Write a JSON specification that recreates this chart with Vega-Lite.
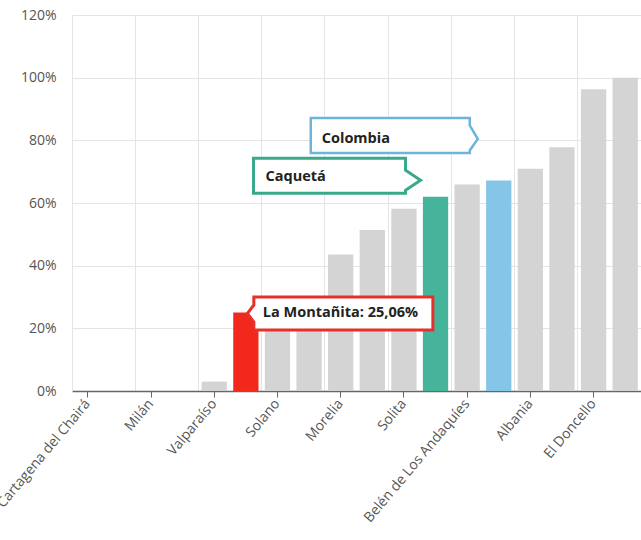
{
  "$schema": "https://vega.github.io/schema/vega-lite/v6.json",
  "autosize": "none",
  "padding": {"left": 72, "top": 15, "right": 0, "bottom": 149},
  "width": 569,
  "height": 376,
  "background": "white",
  "config": {
    "view": {"stroke": null},
    "font": "Open Sans"
  },
  "data": {
    "values": [
      {"municipio": "Cartagena del Chairá", "valor": 0, "grupo": "Municipio"},
      {"municipio": "Curillo", "valor": 0, "grupo": "Municipio"},
      {"municipio": "Milán", "valor": 0, "grupo": "Municipio"},
      {"municipio": "Puerto Rico", "valor": 0, "grupo": "Municipio"},
      {"municipio": "Valparaíso", "valor": 0.03, "grupo": "Municipio"},
      {"municipio": "La Montañita", "valor": 0.2506, "grupo": "La Montañita", "nota": "La Montañita: 25,06%"},
      {"municipio": "Solano", "valor": 0.26, "grupo": "Municipio"},
      {"municipio": "San José del Fragua", "valor": 0.28, "grupo": "Municipio"},
      {"municipio": "Morelia", "valor": 0.436, "grupo": "Municipio"},
      {"municipio": "El Paujil", "valor": 0.514, "grupo": "Municipio"},
      {"municipio": "Solita", "valor": 0.582, "grupo": "Municipio"},
      {"municipio": "Caquetá", "valor": 0.62, "grupo": "Caquetá", "nota": "Caquetá"},
      {"municipio": "Belén de Los Andaquíes", "valor": 0.659, "grupo": "Municipio"},
      {"municipio": "Colombia", "valor": 0.672, "grupo": "Colombia", "nota": "Colombia"},
      {"municipio": "Albania", "valor": 0.709, "grupo": "Municipio"},
      {"municipio": "San Vicente del Caguán", "valor": 0.778, "grupo": "Municipio"},
      {"municipio": "El Doncello", "valor": 0.963, "grupo": "Municipio"},
      {"municipio": "Florencia", "valor": 1.0, "grupo": "Municipio"}
    ]
  },
  "resolve": {"axis": {"x": "independent"}},
  "layer": [
    {
      "mark": {"type": "rule", "opacity": 0},
      "encoding": {
        "x": {
          "field": "municipio", "type": "nominal", "sort": null,
          "scale": {"paddingInner": 0.2, "paddingOuter": 0.1},
          "axis": {
            "orient": "bottom",
            "values": ["Curillo", "Puerto Rico", "La Montañita", "San José del Fragua", "El Paujil", "Caquetá", "Colombia", "San Vicente del Caguán"],
            "bandPosition": 1.125,
            "grid": true, "gridColor": "#e4e4e4", "gridWidth": 1,
            "labels": false, "ticks": false, "domain": false, "title": null
          }
        }
      }
    },
    {
      "mark": {"type": "bar"},
      "encoding": {
        "x": {
          "field": "municipio", "type": "nominal", "sort": null,
          "axis": {
            "orient": "bottom",
            "values": ["Cartagena del Chairá", "Milán", "Valparaíso", "Solano", "Morelia", "Solita", "Belén de Los Andaquíes", "Albania", "El Doncello"],
            "grid": false,
            "labelAngle": -50,
            "labelFontSize": 14,
            "labelColor": "#555555",
            "labelPadding": 4,
            "tickColor": "#666666",
            "tickSize": 6,
            "domainColor": "#666666",
            "domainWidth": 1.5,
            "title": null
          }
        },
        "y": {
          "field": "valor", "type": "quantitative",
          "scale": {"domain": [0, 1.2], "nice": false},
          "axis": {
            "values": [0, 0.2, 0.4, 0.6, 0.8, 1.0, 1.2],
            "format": ".0%",
            "grid": true, "gridColor": "#e4e4e4",
            "ticks": false,
            "labelPadding": 16,
            "labelFontSize": 14,
            "labelColor": "#555555",
            "domainColor": "#e4e4e4",
            "title": null
          }
        },
        "color": {
          "field": "grupo", "type": "nominal",
          "scale": {"domain": ["Municipio", "La Montañita", "Caquetá", "Colombia"], "range": ["#d4d4d4", "#f2281d", "#46b39b", "#84c5e8"]},
          "legend": null
        }
      }
    },
    {
      "transform": [{"filter": "datum.grupo === 'La Montañita'"}],
      "mark": {
        "type": "point", "filled": true, "fill": "white", "fillOpacity": 1, "opacity": 1,
        "stroke": "#e8302a", "strokeWidth": 3, "size": 40000,
        "shape": "M -0.895 -0.165 H 0.895 V 0.165 H -0.895 V 0.085 L -0.96 0.0 L -0.895 -0.085 Z",
        "xOffset": 97.5, "yOffset": 1
      },
      "encoding": {
        "x": {"field": "municipio", "type": "nominal", "sort": null, "axis": null},
        "y": {"field": "valor", "type": "quantitative", "axis": {"title": null}}
      }
    },
    {
      "transform": [{"filter": "datum.grupo === 'Caquetá'"}],
      "mark": {
        "type": "point", "filled": true, "fill": "white", "fillOpacity": 1, "opacity": 1,
        "stroke": "#3aa88b", "strokeWidth": 3, "size": 40000,
        "shape": "M -0.76 -0.175 H 0.76 V -0.055 L 0.91 0.045 L 0.76 0.145 V 0.175 H -0.76 Z",
        "xOffset": -106, "yOffset": -21
      },
      "encoding": {
        "x": {"field": "municipio", "type": "nominal", "sort": null, "axis": null},
        "y": {"field": "valor", "type": "quantitative", "axis": {"title": null}}
      }
    },
    {
      "transform": [{"filter": "datum.grupo === 'Colombia'"}],
      "mark": {
        "type": "point", "filled": true, "fill": "white", "fillOpacity": 1, "opacity": 1,
        "stroke": "#6db4dd", "strokeWidth": 2.5, "size": 40000,
        "shape": "M -0.795 -0.175 H 0.795 V -0.1 L 0.875 0.035 L 0.795 0.15 V 0.175 H -0.795 Z",
        "xOffset": -108.5, "yOffset": -45
      },
      "encoding": {
        "x": {"field": "municipio", "type": "nominal", "sort": null, "axis": null},
        "y": {"field": "valor", "type": "quantitative", "axis": {"title": null}}
      }
    },
    {
      "transform": [{"filter": "datum.grupo === 'La Montañita'"}],
      "mark": {"type": "text", "align": "left", "baseline": "middle", "fontWeight": "bold", "fontSize": 14.5, "color": "#222222", "dx": 17, "dy": 1},
      "encoding": {
        "x": {"field": "municipio", "type": "nominal", "sort": null, "axis": null},
        "y": {"field": "valor", "type": "quantitative", "axis": {"title": null}},
        "text": {"field": "nota"}
      }
    },
    {
      "transform": [{"filter": "datum.grupo === 'Caquetá'"}],
      "mark": {"type": "text", "align": "left", "baseline": "middle", "fontWeight": "bold", "fontSize": 14.5, "color": "#222222", "dx": -170, "dy": -20},
      "encoding": {
        "x": {"field": "municipio", "type": "nominal", "sort": null, "axis": null},
        "y": {"field": "valor", "type": "quantitative", "axis": {"title": null}},
        "text": {"field": "nota"}
      }
    },
    {
      "transform": [{"filter": "datum.grupo === 'Colombia'"}],
      "mark": {"type": "text", "align": "left", "baseline": "middle", "fontWeight": "bold", "fontSize": 14.5, "color": "#222222", "dx": -177, "dy": -41},
      "encoding": {
        "x": {"field": "municipio", "type": "nominal", "sort": null, "axis": null},
        "y": {"field": "valor", "type": "quantitative", "axis": {"title": null}},
        "text": {"field": "nota"}
      }
    }
  ]
}
